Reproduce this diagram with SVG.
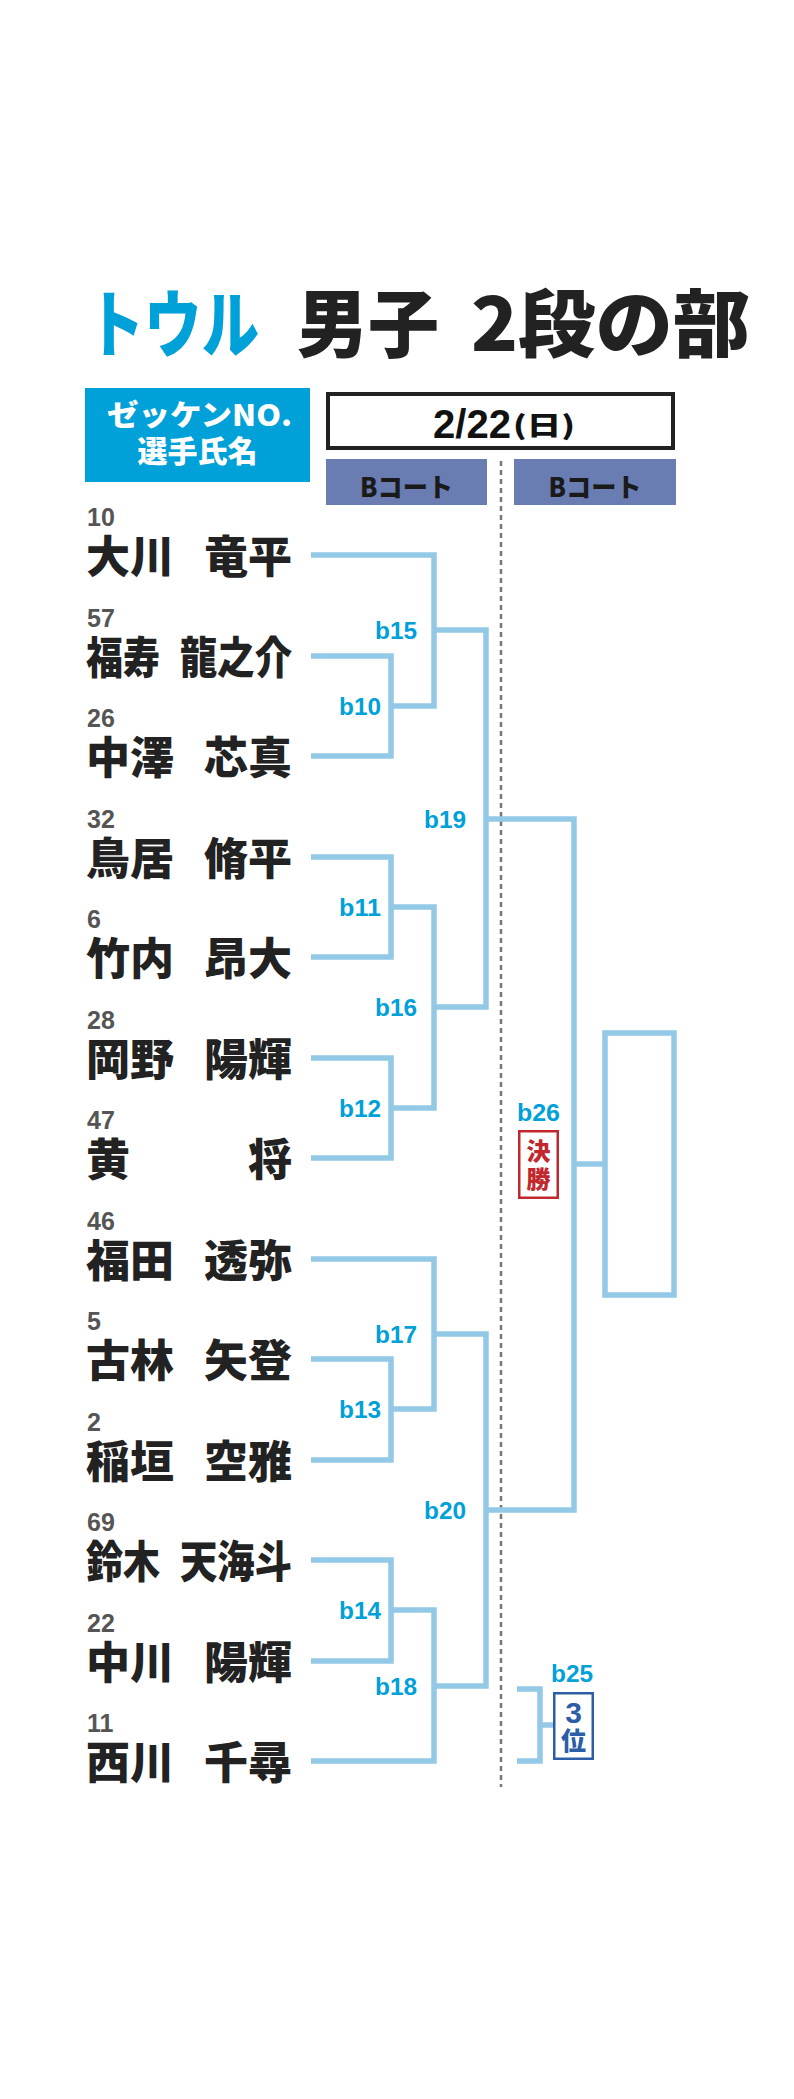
<svg xmlns="http://www.w3.org/2000/svg" width="794" height="2099" viewBox="0 0 794 2099">
<style>
.jp{font-family:"Noto Sans CJK JP","Noto Sans CJK SC",sans-serif;font-weight:900}
.lat{font-family:"Liberation Sans",Arial,sans-serif;font-weight:700}
.num{font-family:"Liberation Sans",Arial,sans-serif;font-weight:700;font-size:25px;fill:#555}
.name{font-family:"Noto Sans CJK JP","Noto Sans CJK SC",sans-serif;font-weight:900;font-size:44px;fill:#222}
.lbl{font-family:"Liberation Sans",Arial,sans-serif;font-weight:700;font-size:24px;fill:#00a0d8;text-anchor:end}
.br{fill:none;stroke:#93c8e6;stroke-width:5.5;stroke-linecap:butt;stroke-linejoin:miter}
</style>
<rect width="794" height="2099" fill="#ffffff"/>
<g id="title">
<text class="jp" x="87" y="351" font-size="73" fill="#00a0d8" textLength="172" lengthAdjust="spacingAndGlyphs">トウル</text>
<text class="jp" x="297" y="351" font-size="74" fill="#222" textLength="142" lengthAdjust="spacingAndGlyphs">男子</text>
<text class="jp" x="471" y="351" font-size="74" fill="#222" textLength="279" lengthAdjust="spacingAndGlyphs">2段の部</text>
</g>
<g id="header-label">
<rect x="85" y="388" width="225" height="94" fill="#00a0d8"/>
<text class="jp" x="107" y="426" font-size="29" fill="#fff" textLength="185" lengthAdjust="spacingAndGlyphs">ゼッケンNO.</text>
<text class="jp" x="197.5" y="462" font-size="30" fill="#fff" text-anchor="middle">選手氏名</text>
</g>
<g id="date">
<rect x="328" y="394" width="345" height="54" fill="#fff" stroke="#222" stroke-width="4"/>
<text class="lat" x="433" y="438" font-size="40" fill="#111" textLength="78" lengthAdjust="spacingAndGlyphs">2/22</text>
<text class="jp" x="513" y="435" font-size="26" fill="#111" textLength="62" lengthAdjust="spacingAndGlyphs">(日)</text>
</g>
<g id="courts">
<rect x="326" y="459" width="161" height="46" fill="#6a7db2"/>
<text class="jp" x="406.5" y="497" font-size="26" fill="#1a1a1a" text-anchor="middle" textLength="93" lengthAdjust="spacingAndGlyphs">Bコート</text>
<rect x="514" y="459" width="162" height="46" fill="#6a7db2"/>
<text class="jp" x="595" y="497" font-size="26" fill="#1a1a1a" text-anchor="middle" textLength="93" lengthAdjust="spacingAndGlyphs">Bコート</text>
</g>
<line id="divider" x1="501" y1="461" x2="501" y2="1787" stroke="#777" stroke-width="2.5" stroke-dasharray="5 4"/>
<g id="players">
<g id="p0"><text class="num" x="87" y="526">10</text><text class="name" x="86" y="573">大川</text><text class="name" x="292" y="573" text-anchor="end">竜平</text></g>
<g id="p1"><text class="num" x="87" y="627">57</text><text class="name" x="86" y="674" textLength="74" lengthAdjust="spacingAndGlyphs">福寿</text><text class="name" x="180" y="674" textLength="112" lengthAdjust="spacingAndGlyphs">龍之介</text></g>
<g id="p2"><text class="num" x="87" y="727">26</text><text class="name" x="86" y="774">中澤</text><text class="name" x="292" y="774" text-anchor="end">芯真</text></g>
<g id="p3"><text class="num" x="87" y="828">32</text><text class="name" x="86" y="875">鳥居</text><text class="name" x="292" y="875" text-anchor="end">脩平</text></g>
<g id="p4"><text class="num" x="87" y="928">6</text><text class="name" x="86" y="975">竹内</text><text class="name" x="292" y="975" text-anchor="end">昂大</text></g>
<g id="p5"><text class="num" x="87" y="1029">28</text><text class="name" x="86" y="1076">岡野</text><text class="name" x="292" y="1076" text-anchor="end">陽輝</text></g>
<g id="p6"><text class="num" x="87" y="1129">47</text><text class="name" x="86" y="1176">黄</text><text class="name" x="292" y="1176" text-anchor="end">将</text></g>
<g id="p7"><text class="num" x="87" y="1230">46</text><text class="name" x="86" y="1277">福田</text><text class="name" x="292" y="1277" text-anchor="end">透弥</text></g>
<g id="p8"><text class="num" x="87" y="1330">5</text><text class="name" x="86" y="1377">古林</text><text class="name" x="292" y="1377" text-anchor="end">矢登</text></g>
<g id="p9"><text class="num" x="87" y="1431">2</text><text class="name" x="86" y="1478">稲垣</text><text class="name" x="292" y="1478" text-anchor="end">空雅</text></g>
<g id="p10"><text class="num" x="87" y="1531">69</text><text class="name" x="86" y="1578" textLength="74" lengthAdjust="spacingAndGlyphs">鈴木</text><text class="name" x="180" y="1578" textLength="112" lengthAdjust="spacingAndGlyphs">天海斗</text></g>
<g id="p11"><text class="num" x="87" y="1632">22</text><text class="name" x="86" y="1679">中川</text><text class="name" x="292" y="1679" text-anchor="end">陽輝</text></g>
<g id="p12"><text class="num" x="87" y="1732">11</text><text class="name" x="86" y="1779">西川</text><text class="name" x="292" y="1779" text-anchor="end">千尋</text></g>
</g>
<g id="connectors">
<path class="br" d="M311,555 H434 V706 H391"/>
<path class="br" d="M311,656 H391 V756 H311"/>
<path class="br" d="M434,630 H486 V1007 H434"/>
<path class="br" d="M311,857 H391 V957 H311"/>
<path class="br" d="M391,907 H434 V1108 H391"/>
<path class="br" d="M311,1058 H391 V1158 H311"/>
<path class="br" d="M486,819 H574 V1510 H486"/>
<path class="br" d="M311,1259 H434 V1409 H391"/>
<path class="br" d="M311,1359 H391 V1460 H311"/>
<path class="br" d="M434,1334 H486 V1686 H434"/>
<path class="br" d="M311,1560 H391 V1661 H311"/>
<path class="br" d="M391,1610 H434 V1761 H311"/>
<path class="br" d="M574,1164 H605"/>
<rect class="br" x="605" y="1033" width="69" height="262"/>
<path class="br" d="M517,1689 H540 V1761 H517"/>
<path class="br" d="M540,1725 H554"/>
</g>
<g id="labels">
<text class="lbl" x="381" y="715" textLength="42" lengthAdjust="spacingAndGlyphs">b10</text>
<text class="lbl" x="381" y="916" textLength="42" lengthAdjust="spacingAndGlyphs">b11</text>
<text class="lbl" x="381" y="1117" textLength="42" lengthAdjust="spacingAndGlyphs">b12</text>
<text class="lbl" x="381" y="1418" textLength="42" lengthAdjust="spacingAndGlyphs">b13</text>
<text class="lbl" x="381" y="1619" textLength="42" lengthAdjust="spacingAndGlyphs">b14</text>
<text class="lbl" x="417" y="639" textLength="42" lengthAdjust="spacingAndGlyphs">b15</text>
<text class="lbl" x="417" y="1016" textLength="42" lengthAdjust="spacingAndGlyphs">b16</text>
<text class="lbl" x="417" y="1343" textLength="42" lengthAdjust="spacingAndGlyphs">b17</text>
<text class="lbl" x="417" y="1695" textLength="42" lengthAdjust="spacingAndGlyphs">b18</text>
<text class="lbl" x="466" y="828" textLength="42" lengthAdjust="spacingAndGlyphs">b19</text>
<text class="lbl" x="466" y="1519" textLength="42" lengthAdjust="spacingAndGlyphs">b20</text>
</g>
<g id="final">
<text class="lbl" x="560" y="1121" textLength="43" lengthAdjust="spacingAndGlyphs">b26</text>
<rect x="519.25" y="1131.25" width="38.5" height="66.5" fill="#fff" stroke="#c1272d" stroke-width="2.5"/>
<text class="jp" x="538.5" y="1160" font-size="24" fill="#c1272d" text-anchor="middle">決</text>
<text class="jp" x="538.5" y="1188" font-size="24" fill="#c1272d" text-anchor="middle">勝</text>
</g>
<g id="third">
<text class="lbl" x="593" y="1682" textLength="42" lengthAdjust="spacingAndGlyphs">b25</text>
<rect x="554.25" y="1693.25" width="38.5" height="65.5" fill="#fff" stroke="#2c5ea8" stroke-width="2.5"/>
<text class="lat" x="573.5" y="1723" font-size="30" fill="#2c5ea8" text-anchor="middle">3</text>
<text class="jp" x="573.5" y="1750" font-size="25" fill="#2c5ea8" text-anchor="middle">位</text>
</g>
</svg>
